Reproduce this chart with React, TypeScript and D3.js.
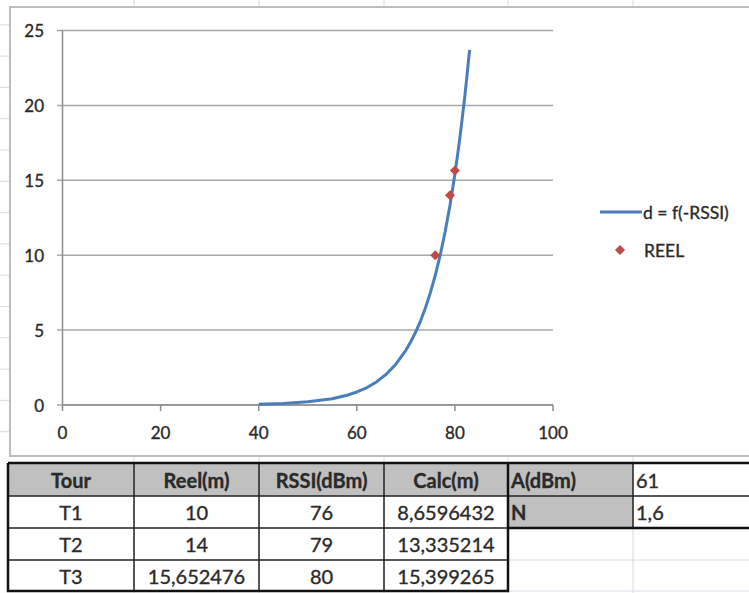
import * as d3 from "d3";

// d = f(-RSSI) curve
const rssiCurve = [40, 45, 50, 55, 58, 60, 62, 64, 66, 68, 70, 71, 72, 73, 74, 75, 76, 77, 78, 79, 80, 81, 82, 83];
const dCurve = [
  0.05, 0.1, 0.21, 0.42, 0.65, 0.87, 1.15, 1.54, 2.05, 2.74, 3.65, 4.22, 4.87, 5.62, 6.49, 7.5, 8.66, 10, 11.55,
  13.34, 15.4, 17.78, 20.54, 23.71,
];

// measured points (REEL)
const rssiReel = [76, 79, 80];
const dReel = [10, 14, 15.652476];

const xTicks = [0, 20, 40, 60, 80, 100];
const yTicks = [0, 5, 10, 15, 20, 25];

// table below the chart
const headers = ["Tour", "Reel(m)", "RSSI(dBm)", "Calc(m)"];
const tours = ["T1", "T2", "T3"];
const reelCol = ["10", "14", "15,652476"];
const rssiCol = ["76", "79", "80"];
const calcCol = ["8,6596432", "13,335214", "15,399265"];
const paramNames = ["A(dBm)", "N"];
const paramValues = ["61", "1,6"];

const W = 749;
const H = 593;
const font = "Lato, 'Open Sans', sans-serif";

const colEdges = [8, 134, 259, 384, 508, 633, 760];
const rowEdges = [463, 496, 528, 560, 591];
const sheetGrid = "#d6dae4";

export default function App() {
  const x = d3.scaleLinear().domain([0, 100]).range([62.5, 553]);
  const y = d3.scaleLinear().domain([0, 25]).range([405, 30.5]);

  const curve = rssiCurve.map((r, i) => [r, dCurve[i]] as [number, number]);
  const line = d3
    .line<[number, number]>()
    .x((d) => x(d[0]))
    .y((d) => y(d[1]));

  const diamond = (cx: number, cy: number, s: number) =>
    `M${cx},${cy - s}L${cx + s},${cy}L${cx},${cy + s}L${cx - s},${cy}Z`;

  // faint spreadsheet row lines behind everything
  const sheetRows: number[] = [];
  for (let v = 463 - 31.3; v > 0; v -= 31.3) sheetRows.push(v);

  const rows = tours.map((t, i) => [t, reelCol[i], rssiCol[i], calcCol[i]]);

  // slight stroke to mimic the heavier screen rendering of the original
  const txt = { fill: "#2a2a2a", stroke: "#2a2a2a", strokeWidth: 0.35 };

  return (
    <svg
      width={W}
      height={H}
      style={{ position: "absolute", left: 0, top: 0, background: "#fff" }}
      fontFamily={font}
    >
      {/* sheet gridlines */}
      {sheetRows.map((v, i) => (
        <line key={"sr" + i} x1={0} x2={W} y1={v} y2={v} stroke={sheetGrid} />
      ))}
      {colEdges.slice(1, 6).map((c, i) => (
        <line key={"sc" + i} x1={c} x2={c} y1={0} y2={H} stroke={sheetGrid} />
      ))}
      <line x1={508} x2={W} y1={560} y2={560} stroke={sheetGrid} />
      <line x1={508} x2={W} y1={591} y2={591} stroke={sheetGrid} />

      {/* chart area */}
      <rect x={10} y={7} width={W + 10} height={449} fill="#fff" stroke="#bdbdbd" strokeWidth={2} />

      {/* gridlines */}
      {yTicks.map((t) => (
        <line key={"g" + t} x1={57} x2={553} y1={y(t)} y2={y(t)} stroke="#a8a8a8" strokeWidth={1.5} />
      ))}
      {/* axes */}
      <line x1={x(0)} x2={x(0)} y1={y(25)} y2={y(0)} stroke="#8c8c8c" strokeWidth={1.5} />
      <line x1={x(0)} x2={x(100)} y1={y(0)} y2={y(0)} stroke="#8c8c8c" strokeWidth={1.5} />
      {xTicks.map((t) => (
        <line key={"xt" + t} x1={x(t)} x2={x(t)} y1={y(0)} y2={y(0) + 6} stroke="#8c8c8c" strokeWidth={1.5} />
      ))}
      {yTicks.map((t) => (
        <text key={"yl" + t} x={44} y={y(t)} textAnchor="end" dominantBaseline="central" fontSize={17} {...txt}>
          {t}
        </text>
      ))}
      {xTicks.map((t) => (
        <text key={"xl" + t} x={x(t)} y={432} textAnchor="middle" dominantBaseline="central" fontSize={17} {...txt}>
          {t}
        </text>
      ))}

      {/* series */}
      <path d={line(curve) ?? ""} fill="none" stroke="#4a7ebb" strokeWidth={3} strokeLinejoin="round" />
      {rssiReel.map((r, i) => (
        <path key={"p" + i} d={diamond(x(r), y(dReel[i]), 5)} fill="#be4b48" />
      ))}

      {/* legend */}
      <line x1={600} x2={642} y1={212} y2={212} stroke="#4a7ebb" strokeWidth={3} />
      <text x={643} y={212} dominantBaseline="central" fontSize={17.5} {...txt}>
        d = f(-RSSI)
      </text>
      <path d={diamond(620, 250, 5)} fill="#be4b48" />
      <text x={644} y={250} dominantBaseline="central" fontSize={17.5} {...txt}>
        REEL
      </text>

      {/* table */}
      <rect x={8} y={463} width={500} height={33} fill="#c0c0c0" />
      <rect x={508} y={463} width={125} height={65} fill="#c0c0c0" />
      {headers.map((h, i) => (
        <text
          key={"h" + i}
          x={(colEdges[i] + colEdges[i + 1]) / 2}
          y={(rowEdges[0] + rowEdges[1]) / 2}
          textAnchor="middle"
          dominantBaseline="central"
          fontSize={20}
          fontWeight="bold"
          {...txt}
        >
          {h}
        </text>
      ))}
      {rows.map((r, ri) =>
        r.map((v, ci) => (
          <text
            key={"c" + ri + "-" + ci}
            x={(colEdges[ci] + colEdges[ci + 1]) / 2}
            y={(rowEdges[ri + 1] + rowEdges[ri + 2]) / 2}
            textAnchor="middle"
            dominantBaseline="central"
            fontSize={20}
            {...txt}
          >
            {v}
          </text>
        ))
      )}
      {paramNames.map((p, i) => (
        <g key={"pn" + i}>
          <text
            x={511}
            y={(rowEdges[i] + rowEdges[i + 1]) / 2}
            dominantBaseline="central"
            fontSize={20}
            fontWeight="bold"
            {...txt}
          >
            {p}
          </text>
          <text x={636} y={(rowEdges[i] + rowEdges[i + 1]) / 2} dominantBaseline="central" fontSize={20} {...txt}>
            {paramValues[i]}
          </text>
        </g>
      ))}

      {/* inner table lines */}
      {rowEdges.slice(1, 4).map((v, i) => (
        <line key={"rl" + i} x1={8} x2={508} y1={v} y2={v} stroke="#222" strokeWidth={1.5} />
      ))}
      {colEdges.slice(1, 4).map((c, i) => (
        <line key={"cl" + i} x1={c} x2={c} y1={463} y2={591} stroke="#222" strokeWidth={1.5} />
      ))}
      <line x1={508} x2={W} y1={496} y2={496} stroke="#222" strokeWidth={1.5} />
      <line x1={633} x2={633} y1={463} y2={528} stroke="#222" strokeWidth={1.5} />

      {/* thick outer borders */}
      <path d={`M8,463H${W}M8,463V591H508V463`} fill="none" stroke="#111" strokeWidth={2.5} />
      <path d={`M508,528H${W}`} fill="none" stroke="#111" strokeWidth={2.5} />
    </svg>
  );
}
